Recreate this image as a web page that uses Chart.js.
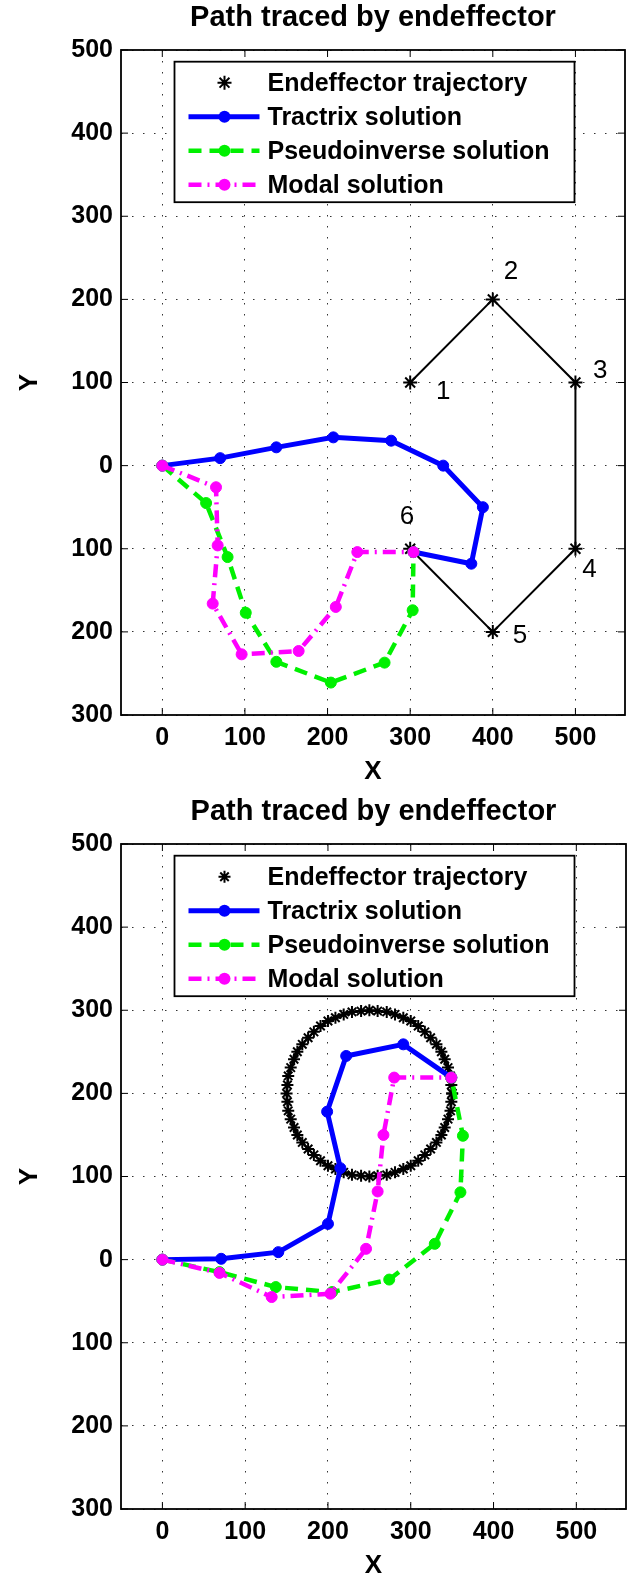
<!DOCTYPE html>
<html>
<head>
<meta charset="utf-8">
<script src="https://cdn.jsdelivr.net/npm/chart.js@4.4.0/dist/chart.umd.min.js"></script>
<style>
  html, body { margin: 0; padding: 0; background: #fff; overflow: hidden; }
  canvas { display: block; }
</style>
</head>
<body>
<canvas id="top-chart" width="634" height="794"></canvas>
<canvas id="bottom-chart" width="634" height="794"></canvas>
<script>
const FONT = '"Liberation Sans", Arial, Helvetica, sans-serif';

const chartTitle = 'Path traced by endeffector';
const seriesNames = ['Endeffector trajectory', 'Tractrix solution', 'Pseudoinverse solution', 'Modal solution'];

const xTicks = [0, 100, 200, 300, 400, 500];
const xTickLabels = ['0', '100', '200', '300', '400', '500'];
const yTicks = [-300, -200, -100, 0, 100, 200, 300, 400, 500];
// the original figure prints the negative ticks without a minus sign
const yTickLabels = ['300', '200', '100', '0', '100', '200', '300', '400', '500'];

// ---- top plot: six-point trajectory ----
const trajX1 = [300, 400, 500, 500, 400, 300];
const trajY1 = [100, 200, 100, -100, -200, -100];
const trajNames1 = ['1', '2', '3', '4', '5', '6'];
const nameX1 = [340, 422, 530, 517, 433, 296];
const nameY1 = [89, 233, 114, -125, -205, -61];

const tractrixX1 = [0, 70, 138, 207, 277, 340, 388, 374, 304];
const tractrixY1 = [0, 9, 22, 34, 30, 0, -50, -118, -104];
const pseudoX1 = [0, 53, 79, 101, 138, 204, 269, 303, 304];
const pseudoY1 = [0, -45, -110, -177, -236, -261, -237, -174, -104];
const modalX1 = [0, 65, 67, 61, 96, 165, 210, 236, 304];
const modalY1 = [0, -26, -96, -166, -227, -223, -170, -104, -104];

// ---- bottom plot: circular trajectory ----
const circleX = [350, 349, 348, 345, 341, 337, 331, 324, 317, 309, 300, 291, 281, 271, 260, 250,
                 240, 229, 219, 209, 200, 191, 183, 176, 169, 163, 159, 155, 152, 151, 150,
                 151, 152, 155, 159, 163, 169, 176, 183, 191, 200, 209, 219, 229, 240, 250,
                 260, 271, 281, 291, 300, 309, 317, 324, 331, 337, 341, 345, 348, 349, 350];
const circleY = [200, 210, 221, 231, 241, 250, 259, 267, 274, 281, 287, 291, 295, 298, 299, 300,
                 299, 298, 295, 291, 287, 281, 274, 267, 259, 250, 241, 231, 221, 210, 200,
                 190, 179, 169, 159, 150, 141, 133, 126, 119, 113, 109, 105, 102, 101, 100,
                 101, 102, 105, 109, 113, 119, 126, 133, 141, 150, 159, 169, 179, 190, 200];

const tractrixX2 = [0, 71, 140, 200, 215, 199, 222, 291, 349];
const tractrixY2 = [0, 1, 9, 43, 110, 178, 245, 259, 219];
const pseudoX2 = [0, 69, 137, 205, 274, 329, 360, 363, 349];
const pseudoY2 = [0, -15, -33, -39, -24, 19, 81, 149, 219];
const modalX2 = [0, 69, 132, 203, 246, 260, 267, 280, 349];
const modalY2 = [0, -16, -45, -41, 13, 82, 150, 219, 219];

function pts(xs, ys) {
  return xs.map((x, i) => ({ x, y: ys[i] }));
}

function buildDatasets(traj, tractrix, pseudo, modal, starRadius) {
  return [
    {
      label: seriesNames[0], data: traj,
      borderColor: '#000', borderWidth: 2,
      pointStyle: 'star', pointRadius: starRadius, pointBorderColor: '#000', pointBorderWidth: 2,
      showLine: true, order: 3, _legendLine: false,
    },
    {
      label: seriesNames[1], data: tractrix,
      borderColor: '#0000ff', backgroundColor: '#0000ff', borderWidth: 5,
      pointStyle: 'circle', pointRadius: 5.5, pointBorderWidth: 1, pointBackgroundColor: '#0000ff', pointBorderColor: '#0000ff',
      showLine: true, order: 2, _legendLine: true,
    },
    {
      label: seriesNames[2], data: pseudo,
      borderColor: '#00f000', backgroundColor: '#00f000', borderWidth: 4.5, borderDash: [13, 8],
      pointStyle: 'circle', pointRadius: 5.5, pointBorderWidth: 1, pointBackgroundColor: '#00f000', pointBorderColor: '#00f000',
      showLine: true, order: 1, _legendLine: true,
    },
    {
      label: seriesNames[3], data: modal,
      borderColor: '#ff00ff', backgroundColor: '#ff00ff', borderWidth: 4.5, borderDash: [13, 6, 2, 6],
      pointStyle: 'circle', pointRadius: 5.5, pointBorderWidth: 1, pointBackgroundColor: '#ff00ff', pointBorderColor: '#ff00ff',
      showLine: true, order: 0, _legendLine: true,
    },
  ];
}

// Box round the axes with inward tick marks, like the original figure
const boxPlugin = {
  id: 'axesBox',
  afterDatasetsDraw(chart) {
    const { ctx, chartArea: a, scales } = chart;
    ctx.save();
    ctx.strokeStyle = '#000';
    ctx.lineWidth = 1;
    ctx.beginPath();
    xTicks.forEach(v => {
      const px = scales.x.getPixelForValue(v);
      ctx.moveTo(px, a.bottom); ctx.lineTo(px, a.bottom - 7);
      ctx.moveTo(px, a.top); ctx.lineTo(px, a.top + 7);
    });
    yTicks.forEach(v => {
      const py = scales.y.getPixelForValue(v);
      ctx.moveTo(a.left, py); ctx.lineTo(a.left + 7, py);
      ctx.moveTo(a.right, py); ctx.lineTo(a.right - 7, py);
    });
    ctx.stroke();
    ctx.lineWidth = 1.8;
    ctx.strokeRect(a.left, a.top, a.right - a.left, a.bottom - a.top);
    ctx.restore();
  }
};

// Point numbers next to the trajectory corners
const numbersPlugin = {
  id: 'pointNumbers',
  afterDatasetsDraw(chart, args, opts) {
    if (!opts || !opts.texts) return;
    const { ctx, scales } = chart;
    ctx.save();
    ctx.fillStyle = '#000';
    ctx.font = '26px ' + FONT;
    ctx.textAlign = 'center';
    ctx.textBaseline = 'middle';
    opts.texts.forEach((t, i) => {
      ctx.fillText(t, scales.x.getPixelForValue(opts.xs[i]), scales.y.getPixelForValue(opts.ys[i]));
    });
    ctx.restore();
  }
};

function drawMarker(ctx, ds, x, y) {
  const r = ds.pointRadius;
  ctx.save();
  if (ds.pointStyle === 'star') {
    const d = Math.cos(Math.PI / 4) * r;
    ctx.strokeStyle = ds.pointBorderColor;
    ctx.lineWidth = ds.pointBorderWidth;
    ctx.beginPath();
    ctx.moveTo(x - r, y); ctx.lineTo(x + r, y);
    ctx.moveTo(x, y - r); ctx.lineTo(x, y + r);
    ctx.moveTo(x - d, y - d); ctx.lineTo(x + d, y + d);
    ctx.moveTo(x - d, y + d); ctx.lineTo(x + d, y - d);
    ctx.stroke();
  } else {
    ctx.fillStyle = ds.pointBackgroundColor;
    ctx.beginPath();
    ctx.arc(x, y, r + ds.pointBorderWidth / 2, 0, Math.PI * 2);
    ctx.fill();
  }
  ctx.restore();
}

// MATLAB-style legend box in the upper part of the axes
const legendPlugin = {
  id: 'boxLegend',
  afterDraw(chart) {
    const { ctx, chartArea: a } = chart;
    const left = a.left + 53.5, top = a.top + 11.7, w = 400, h = 140.5;
    ctx.save();
    ctx.fillStyle = '#fff';
    ctx.fillRect(left, top, w, h);
    ctx.strokeStyle = '#000';
    ctx.lineWidth = 1.8;
    ctx.strokeRect(left, top, w, h);
    chart.data.datasets.forEach((ds, i) => {
      const y = top + 21 + i * 34;
      if (ds._legendLine) {
        ctx.save();
        ctx.strokeStyle = ds.borderColor;
        ctx.lineWidth = ds.borderWidth;
        ctx.setLineDash(ds.borderDash || []);
        ctx.beginPath();
        ctx.moveTo(left + 14, y);
        ctx.lineTo(left + 85, y);
        ctx.stroke();
        ctx.restore();
      }
      drawMarker(ctx, ds, left + 50, y);
      ctx.fillStyle = '#000';
      ctx.font = 'bold 25px ' + FONT;
      ctx.textAlign = 'left';
      ctx.textBaseline = 'middle';
      ctx.fillText(ds.label, left + 93, y + 1);
    });
    ctx.restore();
  }
};

function makeChart(id, datasets, numbers) {
  const tickFont = { family: FONT, size: 25, weight: 'bold' };
  const gridOpts = { color: '#333', lineWidth: 1, drawTicks: false };
  return new Chart(document.getElementById(id), {
    type: 'scatter',
    data: { datasets },
    options: {
      responsive: false,
      animation: false,
      layout: { padding: { left: 0, right: 4, top: 0, bottom: 0 } },
      elements: { line: { tension: 0 } },
      plugins: {
        legend: { display: false },
        tooltip: { enabled: false },
        title: {
          display: true, text: chartTitle, fullSize: false, color: '#000',
          font: { family: FONT, size: 29, weight: 'bold', lineHeight: 1 },
          padding: { top: 3.5, bottom: 17.5 },
        },
        pointNumbers: numbers,
      },
      scales: {
        x: {
          type: 'linear', min: -50, max: 560,
          afterBuildTicks: s => { s.ticks = xTicks.map(v => ({ value: v })); },
          afterFit: s => { s.height = 79; },
          grid: gridOpts,
          border: { display: false, dash: [1.5, 9.5] },
          ticks: { callback: (v, i) => xTickLabels[i], color: '#000', font: tickFont, padding: 8, maxRotation: 0, autoSkip: false },
          title: { display: true, text: 'X', color: '#000', font: { family: FONT, size: 26, weight: 'bold', lineHeight: 1 }, padding: { top: 0, bottom: 9 } },
        },
        y: {
          type: 'linear', min: -300, max: 500,
          afterBuildTicks: s => { s.ticks = yTicks.map(v => ({ value: v })); },
          afterFit: s => { s.width = 121; },
          grid: gridOpts,
          border: { display: false, dash: [1.5, 9.5] },
          ticks: { callback: (v, i) => yTickLabels[i], color: '#000', font: tickFont, padding: 8, autoSkip: false },
          title: { display: true, text: 'Y', color: '#000', font: { family: FONT, size: 26, weight: 'bold', lineHeight: 1 }, padding: { top: 17, bottom: 0 } },
        },
      },
    },
    plugins: [boxPlugin, numbersPlugin, legendPlugin],
  });
}

makeChart('top-chart',
  buildDatasets(pts(trajX1, trajY1), pts(tractrixX1, tractrixY1), pts(pseudoX1, pseudoY1), pts(modalX1, modalY1), 7),
  { texts: trajNames1, xs: nameX1, ys: nameY1 });

makeChart('bottom-chart',
  buildDatasets(pts(circleX, circleY), pts(tractrixX2, tractrixY2), pts(pseudoX2, pseudoY2), pts(modalX2, modalY2), 6),
  null);
</script>
</body>
</html>
